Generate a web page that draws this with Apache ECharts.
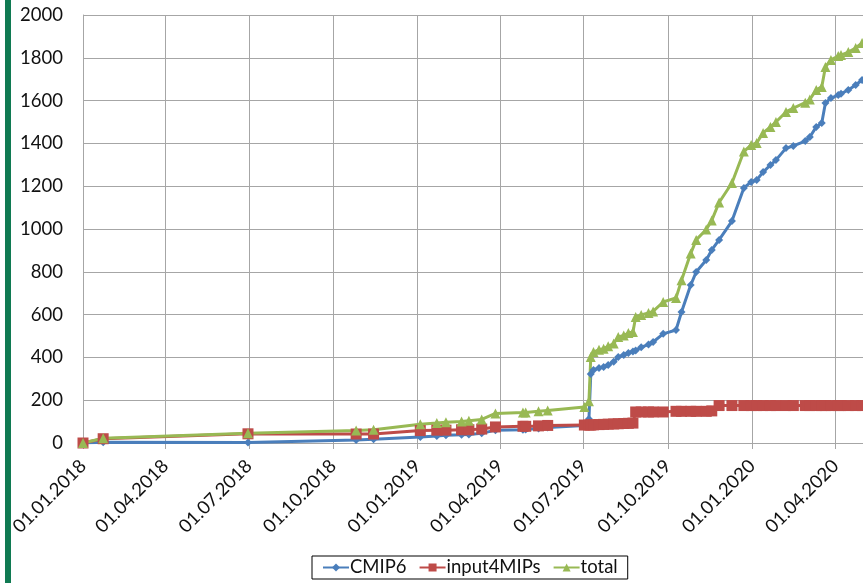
<!DOCTYPE html>
<html>
<head>
    <meta charset="UTF-8">
    <title>CMIP6 / input4MIPs</title>
    <script src="https://cdn.jsdelivr.net/npm/echarts@6.0.0/dist/echarts.min.js"></script>
    <style>
        html, body { margin: 0; padding: 0; background: #fff; }
        #chart { width: 863px; height: 583px; }
    </style>
</head>
<body>
    <div id="chart"></div>
    <script>
        // shared dates for all three series
        var dates = ['2018-01-01', '2018-01-23', '2018-06-30', '2018-10-26', '2018-11-14',
            '2019-01-04', '2019-01-22', '2019-02-01', '2019-02-18', '2019-02-26',
            '2019-03-12', '2019-03-27', '2019-04-26', '2019-04-29', '2019-05-13',
            '2019-05-23', '2019-07-02', '2019-07-07', '2019-07-09', '2019-07-12',
            '2019-07-18', '2019-07-23', '2019-07-28', '2019-08-03', '2019-08-08',
            '2019-08-14', '2019-08-19', '2019-08-24', '2019-08-27', '2019-09-02',
            '2019-09-10', '2019-09-15', '2019-09-26', '2019-10-10', '2019-10-16',
            '2019-10-26', '2019-11-01', '2019-11-12', '2019-11-18', '2019-11-26',
            '2019-12-10', '2019-12-23', '2019-12-31', '2020-01-06', '2020-01-13',
            '2020-01-21', '2020-01-27', '2020-02-07', '2020-02-15', '2020-02-28',
            '2020-03-04', '2020-03-11', '2020-03-17', '2020-03-21', '2020-03-27',
            '2020-04-04', '2020-04-07', '2020-04-15', '2020-04-23', '2020-04-30'];

        var cmip6 = [0, 3, 2, 14, 18, 28, 33, 36, 38, 40,
            45, 60, 62, 63, 68, 72, 82, 112, 322, 341,
            350, 355, 364, 380, 402, 411, 420, 428, 432, 448,
            460, 472, 510, 528, 612, 738, 799, 855, 902, 949,
            1037, 1192, 1220, 1229, 1266, 1299, 1322, 1378, 1388, 1411,
            1430, 1477, 1495, 1589, 1612, 1626, 1632, 1650, 1673, 1696];

        var input4mips = [0, 20, 43, 42, 42, 58, 60, 60, 62, 62,
            65, 75, 78, 78, 80, 82, 84, 84, 84, 85,
            86, 87, 88, 89, 90, 91, 92, 93, 145, 145,
            145, 145, 145, 148, 148, 148, 148, 148, 150, 175,
            175, 175, 175, 175, 175, 175, 175, 175, 175, 175,
            175, 175, 175, 175, 175, 175, 175, 175, 175, 175];

        var total = [0, 22, 45, 58, 62, 88, 93, 97, 100, 104,
            110, 138, 142, 143, 148, 152, 168, 195, 402, 425,
            436, 441, 452, 465, 495, 502, 514, 519, 589, 598,
            608, 615, 659, 678, 760, 885, 949, 998, 1040, 1124,
            1215, 1362, 1393, 1402, 1449, 1477, 1500, 1547, 1565, 1590,
            1605, 1650, 1664, 1757, 1790, 1808, 1813, 1827, 1846, 1869];

        var yTicks = [0, 200, 400, 600, 800, 1000, 1200, 1400, 1600, 1800, 2000];

        var pairs = function (vals) {
            var out = [];
            for (var i = 0; i < dates.length; i++) {
                out.push([dates[i], vals[i]]);
            }
            return out;
        };

        var pad = function (n) { return n < 10 ? '0' + n : '' + n; };

        var font = 'Lato, "Open Sans", sans-serif';
        var gridColor = '#a6a6a6';

        var option = {
            animation: false,
            textStyle: { fontFamily: font },
            grid: { left: 83, top: 15, right: -2, bottom: 140, containLabel: false },
            graphic: [{
                type: 'rect',
                left: 5, top: 0,
                shape: { width: 6, height: 583 },
                style: { fill: '#107a52' },
                silent: true
            }],
            legend: {
                left: 312, top: 556,
                padding: [2, 10, 2, 10],
                itemGap: 12,
                itemWidth: 26,
                itemHeight: 10,
                borderColor: '#000',
                borderWidth: 1,
                textStyle: { fontFamily: font, fontSize: 18.5, color: '#111', padding: [0, 0, 0, -4] },
                data: ['CMIP6', 'input4MIPs', 'total']
            },
            xAxis: {
                type: 'time',
                min: '2018-01-01',
                max: '2020-05-01',
                splitNumber: 9,
                axisLine: { lineStyle: { color: gridColor, width: 1 } },
                axisTick: { show: true, length: 6, lineStyle: { color: gridColor } },
                splitLine: { show: true, lineStyle: { color: gridColor, width: 1, type: 'solid' } },
                axisLabel: {
                    rotate: 45,
                    margin: 20,
                    fontFamily: font,
                    fontSize: 18.5,
                    color: '#111',
                    showMaxLabel: false,
                    hideOverlap: false,
                    formatter: function (value) {
                        var d = new Date(value);
                        return pad(d.getDate()) + '.' + pad(d.getMonth() + 1) + '.' + d.getFullYear();
                    }
                }
            },
            yAxis: {
                type: 'value',
                min: yTicks[0],
                max: yTicks[yTicks.length - 1],
                interval: 200,
                axisLine: { show: true, lineStyle: { color: gridColor } },
                axisTick: { show: false },
                splitLine: { lineStyle: { color: gridColor, width: 1 } },
                axisLabel: {
                    margin: 20, fontFamily: font, fontSize: 18.5, color: '#111',
                    formatter: function (v) { return String(v); }
                }
            },
            series: [
                {
                    name: 'CMIP6',
                    type: 'line',
                    data: pairs(cmip6),
                    symbol: 'diamond',
                    symbolSize: 8,
                    showAllSymbol: true,
                    lineStyle: { color: '#4a7ebb', width: 3 },
                    itemStyle: { color: '#4a7ebb' }
                },
                {
                    name: 'input4MIPs',
                    type: 'line',
                    data: pairs(input4mips),
                    symbol: 'rect',
                    symbolSize: 11,
                    showAllSymbol: true,
                    lineStyle: { color: '#be4b48', width: 3 },
                    itemStyle: { color: '#be4b48' }
                },
                {
                    name: 'total',
                    type: 'line',
                    data: pairs(total),
                    symbol: 'triangle',
                    symbolSize: 10,
                    showAllSymbol: true,
                    lineStyle: { color: '#98b954', width: 3 },
                    itemStyle: { color: '#98b954' }
                }
            ]
        };

        var myChart = echarts.init(document.getElementById('chart'));
        myChart.setOption(option);
    </script>
</body>
</html>
